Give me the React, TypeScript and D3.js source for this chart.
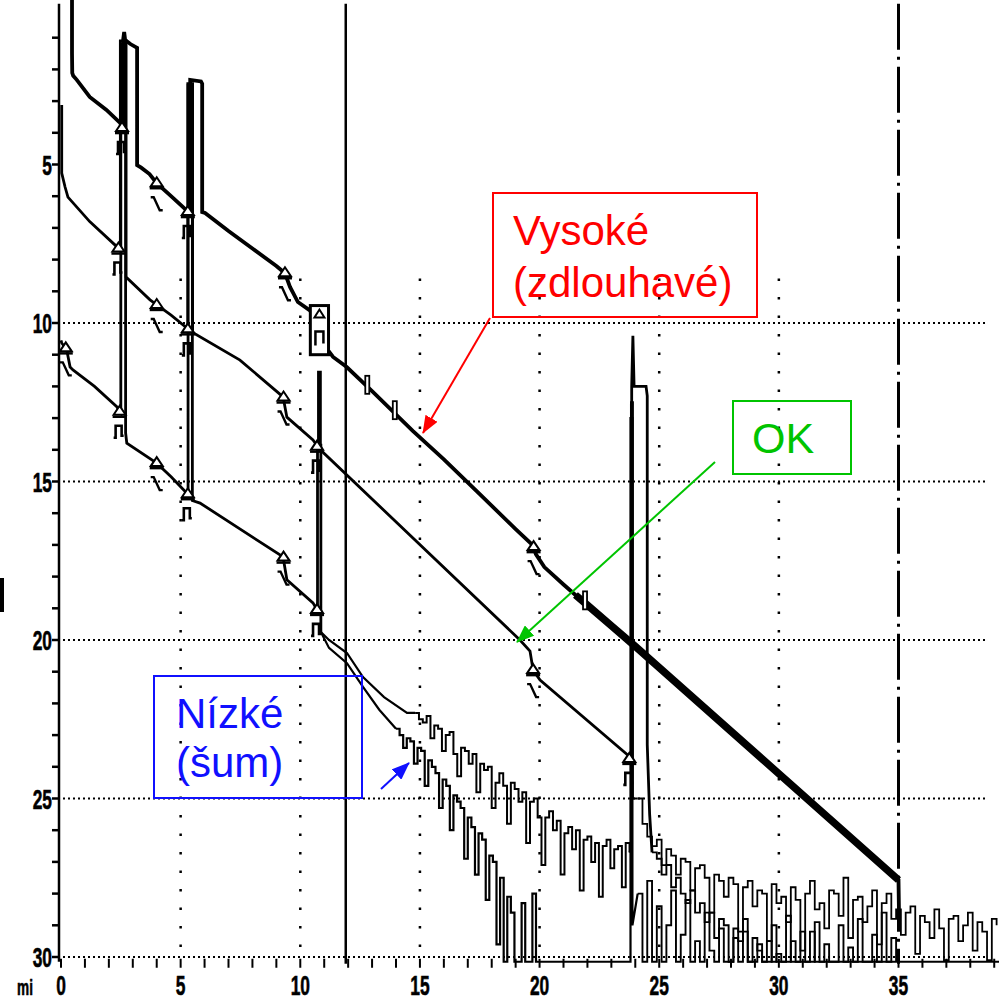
import React from 'react';
import * as d3 from 'd3';

type P = [number, number];

// ---------- axis / grid values ----------
const xTickLabels = [0, 5, 10, 15, 20, 25, 30, 35];
const yTickLabels = [5, 10, 15, 20, 25, 30];
const gridXValues = [5, 10, 15, 20, 25, 30];
const gridYValues = [10, 15, 20, 25, 30];
const cursorMile = 11.9;
const endMile = 35;
const floorDb = 30.15;

// ---------- trace A: "Vysoké (zdlouhavé)" ----------
const traceA: P[] = [
  [0.46, -0.2], [0.46, 1.5], [0.47, 2.11], [0.51, 2.2], [0.66, 2.33], [1.2, 2.87], [1.9, 3.28], [2.47, 3.69], [2.58, 3.85],
  [2.6, 3.85], [2.6, 1.05], [2.64, 0.82], [2.68, 1.07], [2.9, 1.2], [3.18, 1.32], [3.18, 5.02], [3.35, 5.1], [3.7, 5.3],
  [4.0, 5.59], [4.6, 6.0], [5.25, 6.45], [5.4, 6.5], [5.4, 2.33], [5.85, 2.38], [5.9, 2.45], [5.9, 6.5], [6.02, 6.53],
  [7.0, 7.1], [8.0, 7.65], [9.0, 8.2], [9.36, 8.43], [9.57, 8.86], [9.9, 9.34], [10.4, 9.6], [10.8, 10.1], [11.1, 10.8],
  [11.37, 11.07], [11.94, 11.39], [13.0, 12.15], [14.7, 13.4], [16.0, 14.3], [17.5, 15.4], [19.0, 16.5], [19.7, 17.0],
  [19.85, 17.3], [20.2, 17.7], [21.0, 18.25], [21.5, 18.58], [22.0, 18.9], [23.0, 19.55], [24.0, 20.2], [35.0, 27.57], [35.02, 28.6],
];

// ---------- trace B: "OK" ----------
const traceB: P[] = [
  [0.03, 3.12], [0.03, 5.27], [0.17, 5.71], [0.29, 6.03], [1.2, 6.8], [2.33, 7.59], [2.46, 7.7],
  [2.48, 7.7], [2.48, 1.1], [2.72, 1.1], [2.72, 8.55], [3.72, 9.27], [4.01, 9.43], [4.6, 9.75], [5.27, 10.16], [5.3, 10.2],
  [5.3, 2.45], [5.5, 2.45], [5.5, 10.3], [7.48, 11.17], [9.28, 12.33], [9.44, 12.97], [10.53, 13.69], [10.74, 13.91],
  [10.76, 13.91], [10.76, 11.55], [10.84, 11.55], [10.84, 14.0], [19.18, 20.0], [19.6, 20.35], [19.73, 20.95], [20.02, 21.26],
  [23.78, 23.69], [23.85, 23.75], [23.85, 12.0], [23.9, 10.4], [23.95, 12.0], [24.45, 12.0], [24.5, 12.3], [24.5, 23.3],
  [24.6, 25.5], [24.7, 26.7],
];
const traceBTailStart = 24.7;
const traceBTailStep = 0.2;
const traceBTail = [
  26.7, 26.9, 27.4, 27.1, 27.8, 27.5, 28.0, 28.3, 27.9, 28.6, 28.3, 28.9, 28.6, 29.4, 28.8, 29.0, 30.15, 29.1, 29.5, 29.2,
  30.15, 29.4, 29.8, 30.15, 29.5, 30.15, 29.9, 30.15, 28.7, 30.15, 30.15, 29.2, 30.15, 30.15, 28.9, 30.15, 29.6, 30.15,
  30.15, 29.0, 30.15, 29.7, 30.15, 28.8, 30.15, 30.15, 29.3, 30.15, 28.6, 30.15, 29.4, 30.15,
];

// ---------- trace C (common part of the two low traces) ----------
const traceC: P[] = [
  [0.0, 10.55], [0.03, 10.63], [0.24, 10.85], [0.38, 11.39], [0.5, 11.48], [1.4, 12.0], [2.33, 12.64], [2.5, 12.84],
  [2.5, 1.2], [2.7, 1.2], [2.7, 13.47], [2.75, 13.79], [4.0, 14.42], [4.6, 14.85], [5.25, 15.36], [5.31, 15.52],
  [5.31, 2.5], [5.49, 2.5], [5.49, 15.6], [5.81, 15.68], [9.28, 17.38], [9.44, 18.1], [10.53, 18.83], [10.7, 19.05],
  [10.72, 19.05], [10.72, 13.85], [10.86, 13.85], [10.86, 19.75],
];

// upper branch
const traceCUpSmooth: P[] = [
  [10.86, 19.75], [11.2, 20.0], [11.95, 20.41], [12.62, 21.17], [13.5, 21.8], [14.46, 22.3], [14.8, 22.3],
];
const traceCUpNoiseStart = 14.8;
const traceCUpNoiseStep = 0.16;
const traceCUpNoise = [
  22.3, 22.5, 22.6, 22.4, 23.1, 22.7, 22.8, 23.5, 23.0, 22.9, 23.6, 24.3, 23.4, 23.5, 23.9, 23.6, 24.8, 23.9, 24.1, 24.0,
  25.3, 24.5, 24.2, 24.6, 25.8, 24.5, 24.7, 25.1, 24.8, 26.4, 25.1, 25.0, 25.6, 27.1, 25.6, 25.4, 26.0, 25.7, 27.4, 26.1,
  25.9, 26.6, 26.0, 27.9, 26.3, 26.2, 27.0, 26.4, 28.1, 26.5, 26.3, 27.2, 26.6, 26.5, 27.8, 26.4, 26.7,
];
const traceCUpSpike: P[] = [
  [23.76, 26.7], [23.82, 26.6], [23.82, 12.5], [23.9, 12.5], [23.9, 25.0], [24.1, 25.0],
];
const traceCUpTailStart = 24.1;
const traceCUpTailStep = 0.2;
const traceCUpTail = [
  25.0, 25.8, 26.2, 26.5, 26.3, 27.1, 26.6, 26.8, 27.4, 26.9,
  27.0, 27.9, 27.2, 27.1, 27.5, 28.6, 27.4, 27.6, 28.1, 27.5,
  27.7, 29.2, 27.8, 27.6, 28.4, 27.9, 28.0, 29.5, 27.7, 28.3,
  28.1, 28.9, 27.8, 28.2, 29.8, 28.0, 27.6, 28.5, 28.3, 29.1,
  27.9, 28.0, 28.7, 27.5, 29.4, 28.2, 28.1, 28.9, 28.4, 27.9,
  29.6, 28.3, 28.0, 28.8, 28.5, 29.3, 28.6, 28.4, 29.9, 28.7,
  28.9, 29.4, 28.5, 29.1, 30.1, 28.8, 28.7, 29.5, 29.0, 28.6,
  29.8, 28.9, 29.2, 30.1, 28.8, 29.0,
];

// lower branch: "Nízké (šum)"
const traceCLowSmooth: P[] = [
  [10.86, 19.75], [11.2, 20.25], [11.95, 20.73], [12.62, 21.48], [13.3, 22.2], [14.0, 22.8],
];
const traceCLowNoiseStart = 14.0;
const traceCLowNoiseStep = 0.15;
const traceCLowNoise = [
  22.8, 23.0, 23.4, 23.1, 23.2, 23.9, 23.4, 23.5, 24.6, 23.8, 24.0, 24.2, 25.3, 24.4, 24.6, 26.0, 24.9, 25.1, 25.3, 26.9,
  25.6, 25.9, 27.4, 26.1, 26.3, 28.2, 26.8, 27.0, 29.6, 27.5, 30.15, 28.1, 28.6, 30.15, 30.15, 28.3, 30.15, 30.15, 28.0,
  30.15, 30.15,
];
const traceCLowSpike: P[] = [
  [20.0, 30.15], [23.8, 30.15], [23.8, 13.0], [23.88, 13.0], [23.88, 29.0], [24.1, 28.0],
];
const traceCLowTailStart = 24.1;
const traceCLowTailStep = 0.2;
const traceCLowTail = [
  28.0, 30.15, 27.6, 30.15, 28.4, 30.15, 29.0, 27.9, 30.15, 29.3, 28.2, 30.15, 29.5, 30.15, 28.6, 29.8, 30.15, 29.1, 30.15,
  30.15, 29.4, 30.15, 28.8, 30.15, 30.15, 29.6, 30.15, 30.15, 29.0, 30.15, 30.15, 30.15, 29.5, 30.15, 30.15, 30.15, 29.2,
  30.15, 30.15, 30.15, 30.15,
];
const traceCLowEnd: P[] = [[32.1, 30.15], [39.2, 30.15]];

// ---------- event markers [mile, dB, kind] ----------
const eventMarks: [number, number, string][] = [
  [2.55, 3.85, 'r'], [4.0, 5.59, 'n'], [5.3, 6.5, 'r'], [9.36, 8.43, 'n'], [19.75, 17.07, 'n'],
  [2.4, 7.65, 'r'], [4.0, 9.43, 'n'], [5.3, 10.2, 'r'], [9.3, 12.35, 'n'], [10.7, 13.9, 'r'], [19.73, 20.95, 'n'], [23.75, 23.75, 'r'],
  [0.2, 10.8, 'n'], [2.45, 12.8, 'r'], [4.0, 14.42, 'n'], [5.3, 15.4, 'r'], [9.3, 17.4, 'n'], [10.7, 19.05, 'r'],
];
const boxEventMiles = [10.42, 11.18];
const boxEventDb = [9.45, 11.0];
const glitchMarks: P[] = [[12.8, 11.95], [13.95, 12.75], [21.9, 18.75]];

// ---------- annotations ----------
const labelHigh = ['Vysoké', '(zdlouhavé)'];
const labelOk = ['OK'];
const labelLow = ['Nízké', '(šum)'];

const x = d3.scaleLinear().domain([0, 39.2]).range([61, 999]);
const y = d3.scaleLinear().domain([0, 30]).range([6, 957]);

const series = (start: number, stepSize: number, vals: number[]): P[] =>
  vals.map((v, i) => [start + i * stepSize, v] as P);

const CondText = ({ px, py, anchor, size, children }: any) => (
  <text
    transform={`translate(${px},${py}) scale(0.62,1)`}
    textAnchor={anchor}
    fontFamily="'Liberation Sans', Arial, sans-serif"
    fontWeight="bold"
    fontSize={size}
    fill="#000"
    stroke="#000"
    strokeWidth={0.6}
  >
    {children}
  </text>
);

export default function App() {
  const line = d3.line<P>().x((d) => x(d[0])).y((d) => y(d[1]));
  const step = d3.line<P>().x((d) => x(d[0])).y((d) => y(d[1])).curve(d3.curveStepAfter);

  const bTail = series(traceBTailStart, traceBTailStep, traceBTail);
  const cUpNoise = series(traceCUpNoiseStart, traceCUpNoiseStep, traceCUpNoise);
  const cUpTail = series(traceCUpTailStart, traceCUpTailStep, traceCUpTail);
  const cLowNoise = series(traceCLowNoiseStart, traceCLowNoiseStep, traceCLowNoise);
  const cLowTail = series(traceCLowTailStart, traceCLowTailStep, traceCLowTail);

  const yTop = y(-0.07);
  const yBottom = y(floorDb);
  const minorY = d3.range(1, 31);
  const minorX = d3.range(0, 40);

  const font = "'Liberation Sans', Arial, sans-serif";

  return (
    <div style={{ position: 'absolute', left: 0, top: 0 }}>
      <svg width={1000} height={1000} style={{ display: 'block', background: '#fff' }}>
        <defs>
          {[
            ['arrRed', '#ff0000'],
            ['arrGreen', '#00c400'],
            ['arrBlue', '#1010ff'],
          ].map(([id, c]) => (
            <marker key={id} id={id} markerUnits="userSpaceOnUse" markerWidth={18} markerHeight={14} refX={17} refY={7} orient="auto">
              <path d="M0,0 L18,7 L0,14 Z" fill={c} />
            </marker>
          ))}
        </defs>

        {/* grid */}
        {gridYValues.map((v) => (
          <line key={'gy' + v} x1={x(0) + 2} x2={985} y1={y(v)} y2={y(v)} stroke="#000" strokeWidth={2} strokeDasharray="2,3" />
        ))}
        {gridXValues.map((v) => (
          <line key={'gx' + v} x1={x(v)} x2={x(v)} y1={y(8.6)} y2={y(29.8)} stroke="#000" strokeWidth={2.5} strokeDasharray="2.5,16" />
        ))}

        {/* cursor lines */}
        <line x1={x(cursorMile)} x2={x(cursorMile)} y1={yTop} y2={yBottom + 2} stroke="#000" strokeWidth={2.5} />
        <line x1={x(endMile)} x2={x(endMile)} y1={yTop} y2={yBottom + 2} stroke="#000" strokeWidth={3} strokeDasharray="46,7,3,7" />

        {/* traces */}
        <g fill="none" stroke="#000" strokeLinejoin="miter">
          <path d={line(traceC) || ''} strokeWidth={2.8} />
          <path d={line(traceCUpSmooth) || ''} strokeWidth={2.2} />
          <path d={step([traceCUpSmooth[traceCUpSmooth.length - 1], ...cUpNoise]) || ''} strokeWidth={2} />
          <path d={line([cUpNoise[cUpNoise.length - 1], ...traceCUpSpike]) || ''} strokeWidth={2} />
          <path d={step(cUpTail) || ''} strokeWidth={1.8} />
          <path d={line(traceCLowSmooth) || ''} strokeWidth={2.2} />
          <path d={step([traceCLowSmooth[traceCLowSmooth.length - 1], ...cLowNoise]) || ''} strokeWidth={2.2} />
          <path d={line(traceCLowSpike) || ''} strokeWidth={2.2} />
          <path d={step(cLowTail) || ''} strokeWidth={1.9} />
          <path d={line([cLowTail[cLowTail.length - 1], ...traceCLowEnd]) || ''} strokeWidth={2} />
          <path d={line(traceB) || ''} strokeWidth={2.8} />
          <path d={step(bTail) || ''} strokeWidth={1.9} />
          <path d={line(traceA) || ''} strokeWidth={3.8} />
          <path d={line(traceA.filter((p) => p[0] >= 21.5 && p[0] <= 35)) || ''} strokeWidth={7.5} />
        </g>

        {/* event markers */}
        <g fill="none" stroke="#000" strokeWidth={2}>
          {eventMarks.map(([m, d, k], i) => (
            <g key={'ev' + i} transform={`translate(${x(m)},${y(d)})`}>
              <path d="M-6,3 L0,-6 L6,3 Z" fill="#fff" />
              <path d="M-7,5 H7" strokeWidth={2.5} />
              {k === 'n' ? <path d="M-6,14 h3 l6,13 h3" strokeWidth={2.4} /> : <path d="M-6,26 h2 v-12 h6 v10 h2" strokeWidth={2.6} />}
            </g>
          ))}
          <rect
            x={x(boxEventMiles[0])}
            y={y(boxEventDb[0])}
            width={x(boxEventMiles[1]) - x(boxEventMiles[0])}
            height={y(boxEventDb[1]) - y(boxEventDb[0])}
            strokeWidth={3}
            fill="#fff"
          />
          <g transform={`translate(${(x(boxEventMiles[0]) + x(boxEventMiles[1])) / 2},${y(boxEventDb[0])})`}>
            <path d="M-5,12 L0,4 L5,12 Z" />
            <path d="M-4,40 v-14 h8 v12" strokeWidth={2.5} />
          </g>
          {glitchMarks.map(([m, d], i) => (
            <rect key={'gl' + i} x={x(m) - 2} y={y(d) - 9} width={4} height={18} fill="#fff" strokeWidth={1.8} />
          ))}
        </g>

        {/* y axis */}
        <line x1={x(0) - 2} x2={x(0) - 2} y1={yTop} y2={yBottom} stroke="#000" strokeWidth={2.5} />
        {minorY.map((v) => (
          <line key={'yt' + v} x1={x(0) - 9} x2={x(0) - 2} y1={y(v)} y2={y(v)} stroke="#000" strokeWidth={2.5} />
        ))}
        {yTickLabels.map((v) => (
          <CondText key={'yl' + v} px={x(0) - 9} py={y(v) + 10} anchor="end" size={28}>
            {v}
          </CondText>
        ))}

        {/* x axis */}
        {minorX.map((v) => (
          <line key={'xt' + v} x1={x(v)} x2={x(v)} y1={yBottom - 3} y2={yBottom + 6} stroke="#000" strokeWidth={2} />
        ))}
        {xTickLabels.map((v) => (
          <CondText key={'xl' + v} px={x(v)} py={995} anchor="middle" size={28}>
            {v}
          </CondText>
        ))}
        <CondText px={25} py={995} anchor="middle" size={22}>
          mi
        </CondText>

        {/* left edge mark */}
        <rect x={0} y={578} width={4} height={34} fill="#000" />

        {/* annotations */}
        <rect x={493} y={193} width={264} height={124} fill="none" stroke="#ff0000" strokeWidth={2} />
        {labelHigh.map((t, i) => (
          <text key={t} x={513} y={245 + i * 52} fontFamily={font} fontSize={42} fill="#ff0000">
            {t}
          </text>
        ))}
        <line x1={490} y1={318} x2={423} y2={433} stroke="#ff0000" strokeWidth={2} markerEnd="url(#arrRed)" />

        <rect x={733} y={401} width={118} height={73} fill="none" stroke="#00c400" strokeWidth={2} />
        {labelOk.map((t) => (
          <text key={t} x={752} y={453} fontFamily={font} fontSize={43} fill="#00c400">
            {t}
          </text>
        ))}
        <line x1={715} y1={462} x2={517} y2={642} stroke="#00c400" strokeWidth={2} markerEnd="url(#arrGreen)" />

        <rect x={154} y={676} width={208} height={122} fill="none" stroke="#1010ff" strokeWidth={2} />
        {labelLow.map((t, i) => (
          <text key={t} x={176} y={728 + i * 49} fontFamily={font} fontSize={42} fill="#1010ff">
            {t}
          </text>
        ))}
        <line x1={381} y1={789} x2={409} y2={763} stroke="#1010ff" strokeWidth={2} markerEnd="url(#arrBlue)" />
      </svg>
    </div>
  );
}
